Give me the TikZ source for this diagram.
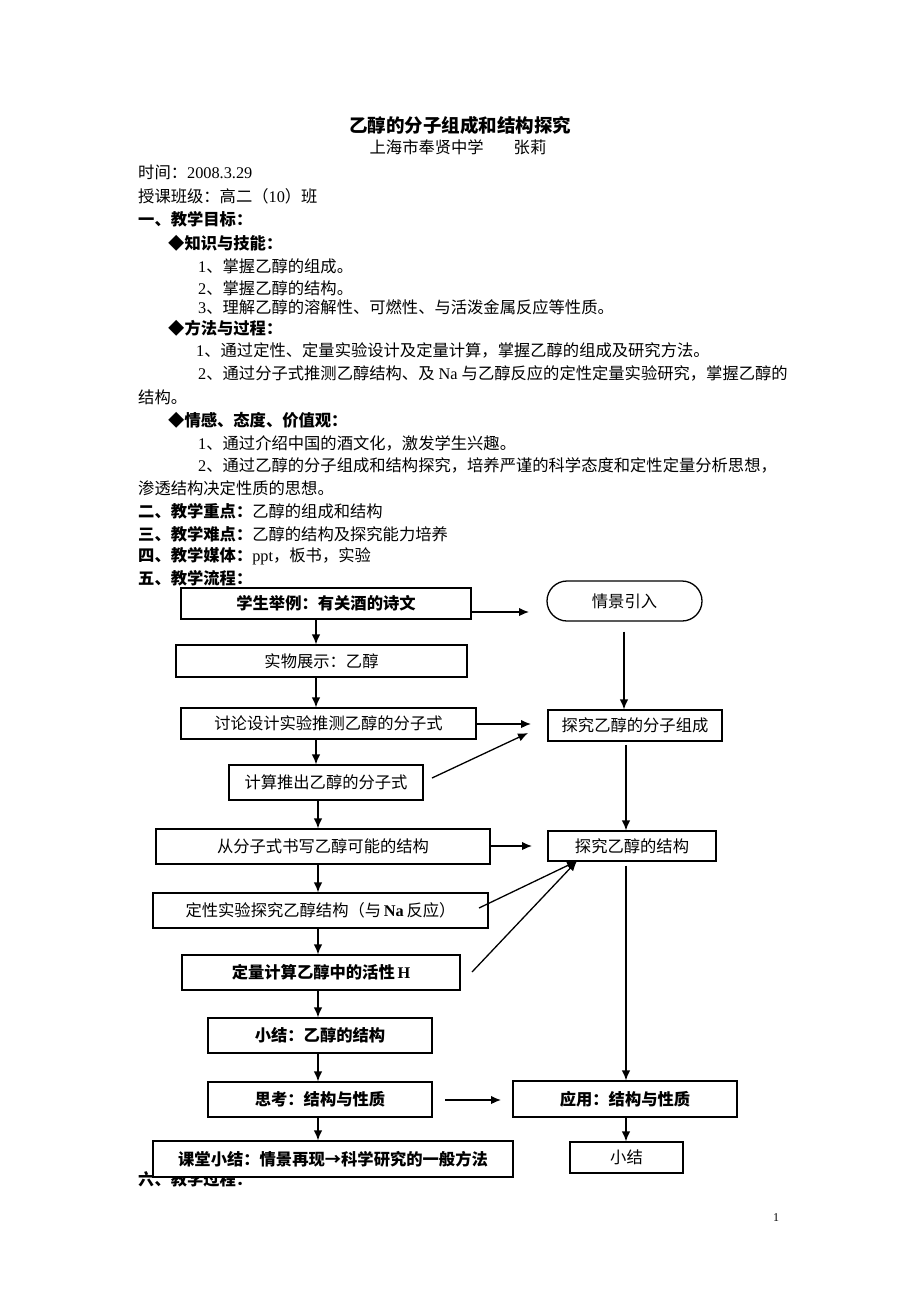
\documentclass[tikz,border=0pt]{standalone}
\usepackage{fontspec}
\setmainfont{Liberation Serif}
\newfontfamily\cjk{Noto Sans CJK SC}
\usetikzlibrary{arrows.meta}
\begin{document}
\begin{tikzpicture}[x=1pt,y=-1pt,
  txt/.style={anchor=west,inner sep=0pt,font=\fontsize{16.3}{18}\selectfont},
  box/.style={draw,fill=white,line width=1.3pt,inner sep=0pt,font=\cjk\fontsize{16.3}{18}\selectfont},
  bbox/.style={box,font=\cjk\bfseries\fontsize{16.3}{18}\selectfont},
  arr/.style={line width=1.3pt,-{Latex[length=10pt,width=8.5pt]}}]
\useasboundingbox[fill=white] (0,0) rectangle (920,1302);

% header text
\node[inner sep=0pt,font=\cjk\bfseries\fontsize{18.5}{20}\selectfont] (title) at (460,125) {乙醇的分子组成和结构探究};
\node[inner sep=0pt,font=\cjk\fontsize{16.3}{18}\selectfont] (sub) at (458,147) {上海市奉贤中学\hspace{30pt}张莉};
\node[txt] (t1) at (138,172) {{\cjk 时间：}2008.3.29};
\node[txt] (t2) at (138,196) {{\cjk 授课班级：高二（}10{\cjk ）班}};
\node[txt] (t3) at (138,219) {{\cjk\bfseries 一、教学目标：}};
\node[txt] (t4) at (168,243) {{\cjk\bfseries ◆知识与技能：}};
\node[txt] (t5) at (198,266) {1{\cjk 、掌握乙醇的组成。}};
\node[txt] (t6) at (198,288) {2{\cjk 、掌握乙醇的结构。}};
\node[txt] (t7) at (198,307) {3{\cjk 、理解乙醇的溶解性、可燃性、与活泼金属反应等性质。}};
\node[txt] (t8) at (168,328) {{\cjk\bfseries ◆方法与过程：}};
\node[txt] (t9) at (196,350) {1{\cjk 、通过定性、定量实验设计及定量计算，掌握乙醇的组成及研究方法。}};
\node[txt] (t10) at (198,373) {2{\cjk 、通过分子式推测乙醇结构、及} Na {\cjk 与乙醇反应的定性定量实验研究，掌握乙醇的}};
\node[txt] (t11) at (138,397) {{\cjk 结构。}};
\node[txt] (t12) at (168,420) {{\cjk\bfseries ◆情感、态度、价值观：}};
\node[txt] (t13) at (198,443) {1{\cjk 、通过介绍中国的酒文化，激发学生兴趣。}};
\node[txt] (t14) at (198,465) {2{\cjk 、通过乙醇的分子组成和结构探究，培养严谨的科学态度和定性定量分析思想，}};
\node[txt] (t15) at (138,488) {{\cjk 渗透结构决定性质的思想。}};
\node[txt] (t16) at (138,511) {{\cjk\bfseries 二、教学重点：}{\cjk 乙醇的组成和结构}};
\node[txt] (t17) at (138,534) {{\cjk\bfseries 三、教学难点：}{\cjk 乙醇的结构及探究能力培养}};
\node[txt] (t18) at (138,556) {{\cjk\bfseries 四、教学媒体：}ppt{\cjk ，板书，实验}};
\node[txt] (t19) at (138,578) {{\cjk\bfseries 五、教学流程：}};
\node[txt] (t20) at (138,1179) {{\cjk\bfseries 六、教学过程：}};
\node[inner sep=0pt,font=\fontsize{12}{14}\selectfont] (pg) at (776,1218) {1};

% left column boxes
\node[bbox,minimum width=290pt,minimum height=31pt] (b1) at (326,603.5) {学生举例：有关酒的诗文};
\node[box,minimum width=291pt,minimum height=32pt] (b2) at (321.5,661) {实物展示：乙醇};
\node[box,minimum width=295pt,minimum height=31pt] (b3) at (328.5,723.5) {讨论设计实验推测乙醇的分子式};
\node[box,minimum width=194pt,minimum height=35pt] (b4) at (326,782.5) {计算推出乙醇的分子式};
\node[box,minimum width=334pt,minimum height=35pt] (b5) at (323,846.5) {从分子式书写乙醇可能的结构};
\node[box,minimum width=335pt,minimum height=35pt] (b6) at (320.5,910.5) {定性实验探究乙醇结构（与{\rmfamily\bfseries\,Na\,}反应）};
\node[bbox,minimum width=278pt,minimum height=35pt] (b7) at (321,972.5) {定量计算乙醇中的活性{\rmfamily\bfseries\,H}};
\node[bbox,minimum width=224pt,minimum height=35pt] (b8) at (320,1035.5) {小结：乙醇的结构};
\node[bbox,minimum width=224pt,minimum height=35pt] (b9) at (320,1099.5) {思考：结构与性质};
\node[bbox,minimum width=360pt,minimum height=36pt] (b10) at (333,1159) {课堂小结：情景再现→科学研究的一般方法};

% right column boxes
\node[box,rounded corners=20pt,minimum width=155pt,minimum height=40pt] (r1) at (624.5,601) {情景引入};
\node[box,minimum width=174pt,minimum height=31pt] (r2) at (635,725.5) {探究乙醇的分子组成};
\node[box,minimum width=168pt,minimum height=30pt] (r3) at (632,846) {探究乙醇的结构};
\node[bbox,minimum width=224pt,minimum height=36pt] (r4) at (625,1099) {应用：结构与性质};
\node[box,minimum width=113pt,minimum height=31pt] (r5) at (626.5,1157.5) {小结};

% helper coordinates
\coordinate (xl) at (316,0);
\coordinate (xm) at (318,0);
\coordinate (xr1) at (624,0);
\coordinate (xr) at (626,0);
\coordinate (e1) at (529,612);
\coordinate (e3) at (531,724);
\coordinate (s4) at (432,778);
\coordinate (e4) at (528,733);
\coordinate (e5) at (532,846);
\coordinate (s6) at (479,908);
\coordinate (s7) at (472,972);
\coordinate (e67) at (577,861);
\coordinate (s9) at (445,1100);
\coordinate (e9) at (501,1100);

% left vertical arrows
\draw[arr] (b1.south-|xl) -- (b2.north-|xl);
\draw[arr] (b2.south-|xl) -- (b3.north-|xl);
\draw[arr] (b3.south-|xl) -- (b4.north-|xl);
\draw[arr] (b4.south-|xm) -- (b5.north-|xm);
\draw[arr] (b5.south-|xm) -- (b6.north-|xm);
\draw[arr] (b6.south-|xm) -- (b7.north-|xm);
\draw[arr] (b7.south-|xm) -- (b8.north-|xm);
\draw[arr] (b8.south-|xm) -- (b9.north-|xm);
\draw[arr] (b9.south-|xm) -- (b10.north-|xm);

% right vertical arrows
\draw[arr,shorten <=10pt] (r1.south-|xr1) -- (r2.north-|xr1);
\draw[arr,shorten <=3pt] (r2.south-|xr) -- (r3.north-|xr);
\draw[arr,shorten <=4pt] (r3.south-|xr) -- (r4.north-|xr);
\draw[arr] (r4.south-|xr) -- (r5.north-|xr);

% cross arrows
\draw[arr] (b1.east|-e1) -- (e1);
\draw[arr] (b3.east|-e3) -- (e3);
\draw[arr] (s4) -- (e4);
\draw[arr] (b5.east|-e5) -- (e5);
\draw[arr] (s6) -- (e67);
\draw[arr] (s7) -- (e67);
\draw[arr] (s9) -- (e9);
\end{tikzpicture}
\end{document}
